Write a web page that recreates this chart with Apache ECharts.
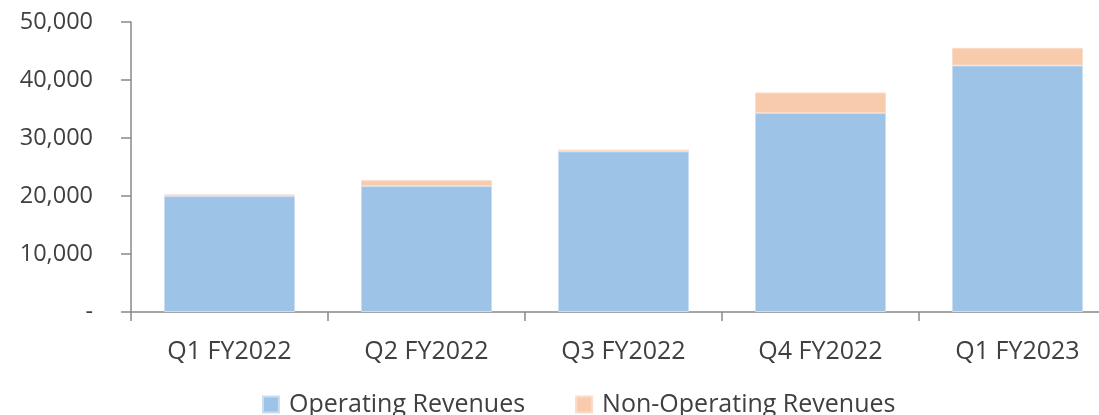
<!DOCTYPE html>
<html>
<head>
<meta charset="utf-8">
<script src="https://cdn.jsdelivr.net/npm/echarts@6/dist/echarts.min.js"></script>
<style>
  html, body { margin: 0; padding: 0; background: #fff; overflow: hidden; }
  #chart { width: 1099px; height: 415px; }
</style>
</head>
<body>
<div id="chart"></div>
<script>
const categories = ['Q1 FY2022', 'Q2 FY2022', 'Q3 FY2022', 'Q4 FY2022', 'Q1 FY2023']
const operatingRevenues = [19980, 21700, 27700, 34300, 42500]
const nonOperatingRevenues = [300, 1030, 290, 3540, 3040]
const yTicks = [0, 10000, 20000, 30000, 40000, 50000]

const chart = echarts.init(document.getElementById('chart'))
const font = '"Open Sans", "Noto Sans", sans-serif'
const axisColor = '#898989'
const textColor = '#404040'

const option = {
  animation: false,
  textStyle: { fontFamily: font },
  // plot runs past the right edge of the picture, as in the source crop
  grid: { left: 131, width: 985, top: 22, bottom: 103, outerBoundsMode: 'none' },
  legend: {
    left: 262,
    top: 392,
    padding: 0,
    itemWidth: 16,
    itemHeight: 16,
    itemGap: 50,
    icon: 'rect',
    textStyle: { fontSize: 25, color: textColor, fontFamily: font, padding: [0, 0, 0, 5] },
    data: ['Operating Revenues', 'Non-Operating Revenues']
  },
  xAxis: {
    type: 'category',
    data: categories,
    axisLine: { lineStyle: { color: axisColor, width: 1.5 } },
    axisTick: { show: true, length: 9, lineStyle: { color: axisColor, width: 1.5 } },
    axisLabel: { color: textColor, fontSize: 25, margin: 27 }
  },
  yAxis: {
    type: 'value',
    min: yTicks[0],
    max: yTicks[yTicks.length - 1],
    interval: 10000,
    splitLine: { show: false },
    axisLine: { show: true, lineStyle: { color: axisColor, width: 1.5 } },
    axisTick: { show: true, length: 10, lineStyle: { color: axisColor, width: 1.5 } },
    axisLabel: {
      color: textColor,
      fontSize: 23.5,
      margin: 38,
      formatter: function (v) {
        return v === 0 ? '-' : v.toLocaleString('en-US')
      }
    }
  },
  series: [
    {
      name: 'Operating Revenues',
      type: 'bar',
      stack: 'rev',
      barWidth: 131,
      data: operatingRevenues,
      itemStyle: { color: '#9DC3E6', borderColor: '#c9def2', borderWidth: 1 }
    },
    {
      name: 'Non-Operating Revenues',
      type: 'bar',
      stack: 'rev',
      barWidth: 131,
      data: nonOperatingRevenues,
      itemStyle: { color: '#F8CBAD', borderColor: '#fbdcc8', borderWidth: 1 }
    }
  ]
}

chart.setOption(option)
</script>
</body>
</html>
